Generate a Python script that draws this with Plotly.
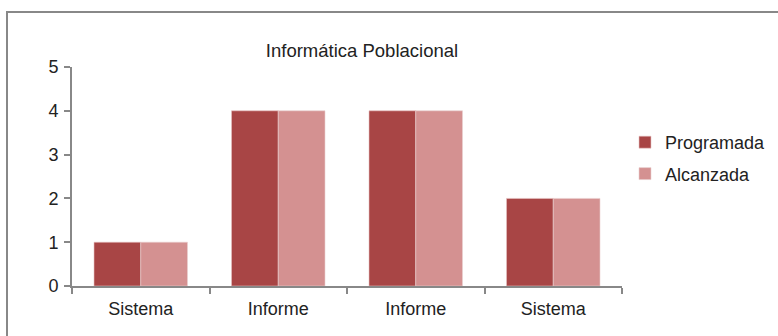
import plotly.graph_objects as go

categories = ["Sistema", "Informe", "Informe", "Sistema"]
programada = [1, 4, 4, 2]
alcanzada = [1, 4, 4, 2]
y_ticks = [0, 1, 2, 3, 4, 5]

W, H = 778, 336
L, R, T, B = 72, 778 - 622, 67, 336 - 286
pw = W - L - R
ph = H - T - B

x = list(range(len(categories)))
font = "Liberation Sans, Arial, sans-serif"

fig = go.Figure()
fig.add_trace(go.Bar(x=x, y=programada, name="Programada", legendgroup="p",
                     marker=dict(color="#A84545", line=dict(color="#E8C4C4", width=0.6))))
fig.add_trace(go.Bar(x=x, y=alcanzada, name="Alcanzada", legendgroup="a",
                     marker=dict(color="#D49191", line=dict(color="#EAD0D0", width=0.6))))

def px_x(p):
    return (p - L) / pw

def px_y(p):
    return (H - B - p) / ph

fig.update_layout(
    width=W, height=H,
    margin=dict(l=L, r=R, t=T, b=B, pad=0, autoexpand=False),
    paper_bgcolor="white", plot_bgcolor="white",
    barmode="group", bargap=0.32, bargroupgap=0,
    font=dict(family=font, size=18, color="#222222"),
    title=dict(text="Informática Poblacional", x=px_x(362), xanchor="center",
               xref="paper", y=1 - 51 / H, yanchor="middle",
               font=dict(size=18.5, color="#222222")),
    legend=dict(x=px_x(625), y=px_y(124), xanchor="left", yanchor="top",
                font=dict(size=18), itemwidth=30, tracegroupgap=5,
                bgcolor="rgba(0,0,0,0)"),
    showlegend=True,
    xaxis=dict(range=[-0.5, len(categories) - 0.5], tickvals=x, ticktext=categories,
               ticks="", showgrid=False, zeroline=False, showline=True,
               linecolor="#888888", linewidth=2,
               minor=dict(tickvals=[i - 0.5 for i in range(len(categories) + 1)],
                          ticks="outside", ticklen=6, tickcolor="#888888", tickwidth=2,
                          showgrid=False),
               ticklabelstandoff=5),
    yaxis=dict(range=[0, 5], tickvals=y_ticks, ticks="outside", ticklen=6,
               tickcolor="#888888", tickwidth=2, showgrid=False, zeroline=False,
               showline=True, linecolor="#888888", linewidth=2,
               ticklabelstandoff=2),
    shapes=[
        dict(type="line", xref="paper", yref="paper", x0=px_x(6), x1=px_x(790),
             y0=px_y(12), y1=px_y(12), line=dict(color="#888888", width=2)),
        dict(type="line", xref="paper", yref="paper", x0=px_x(7), x1=px_x(7),
             y0=px_y(12), y1=px_y(350), line=dict(color="#888888", width=2)),
    ],
)

fig.write_html("out.html", config={"displayModeBar": False},
               post_script="document.body.style.margin='0';document.body.style.overflow='hidden';")
